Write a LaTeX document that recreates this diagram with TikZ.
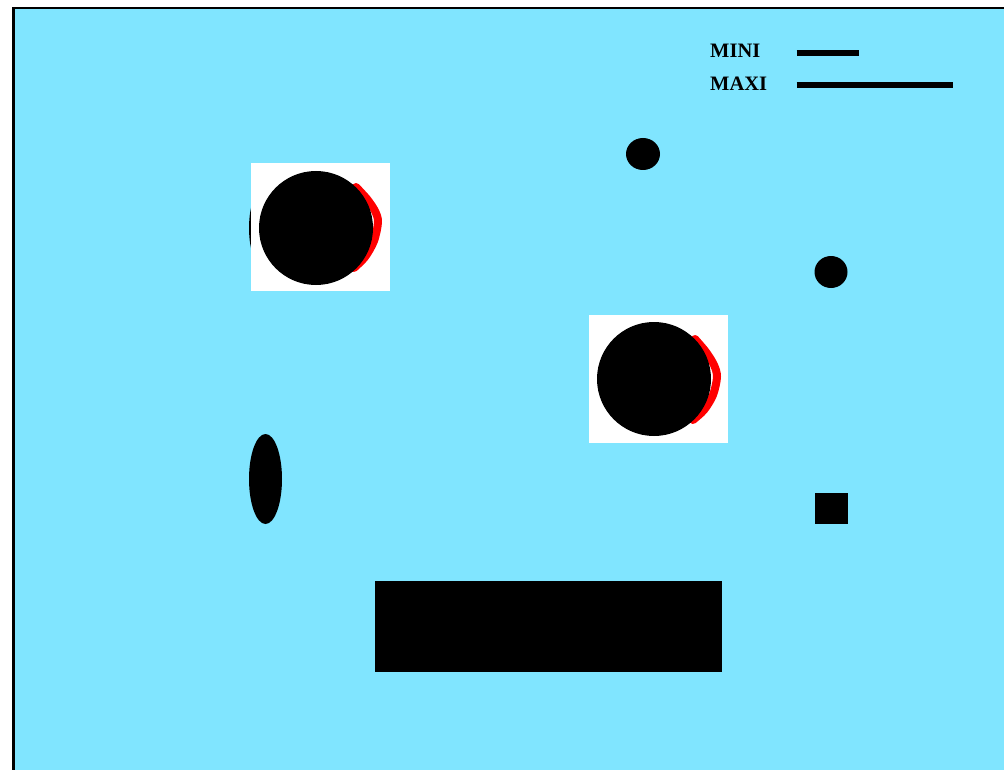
\documentclass[tikz,border=0pt]{standalone}
\usepackage{fontspec}
\setmainfont{Liberation Serif}
\definecolor{sky}{RGB}{128,229,255}
\begin{document}
\begin{tikzpicture}[x=1pt,y=-1pt,
  legendtext/.style={anchor=base west,inner sep=0pt,font=\fontsize{20.5}{22}\selectfont\bfseries},
  legendline/.style={line width=6pt},
  redrim/.style={red,line width=8pt,line join=round,line cap=round},
  blob/.style={fill=black}]
\useasboundingbox (0,0) rectangle (1004,770);
% background and frame
\fill[sky] (13.5,7.8) rectangle (1004,770);
\draw[line width=2.5pt] (13.5,770) -- (13.5,7.8) -- (1004,7.8);
% legend
\node[legendtext] (mini) at (710,58) {MINI};
\node[legendtext] (maxi) at (710,91) {MAXI};
\draw[legendline] (796.5,53) -- (859,53);
\draw[legendline] (796.5,85) -- (953,85);
% small ellipses
\fill[blob] (643,154) ellipse (17 and 16);
\fill[blob] (831,272) ellipse (16.5 and 16);
% ellipse hidden behind first white square
\fill[blob] (265.5,228) ellipse (16.5 and 42);
% white squares with circles
\fill[white] (251,163) rectangle (390,291);
\draw[redrim] plot[smooth] coordinates {(356,187) (367,199) (375,211) (378,222) (374,241) (365,257) (354,268)};
\fill[blob] (316,228) circle (57);
\fill[white] (589,315) rectangle (728,443);
\draw[redrim] plot[smooth] coordinates {(695,339) (706,352) (714,365) (717,377) (713,395) (704,410) (693,420)};
\fill[blob] (654,379) circle (57);
% lower shapes
\fill[blob] (265.5,479) ellipse (16.5 and 45);
\fill[blob] (815,493) rectangle (848,524);
\fill[blob] (375,581) rectangle (722,672);
\end{tikzpicture}
\end{document}
